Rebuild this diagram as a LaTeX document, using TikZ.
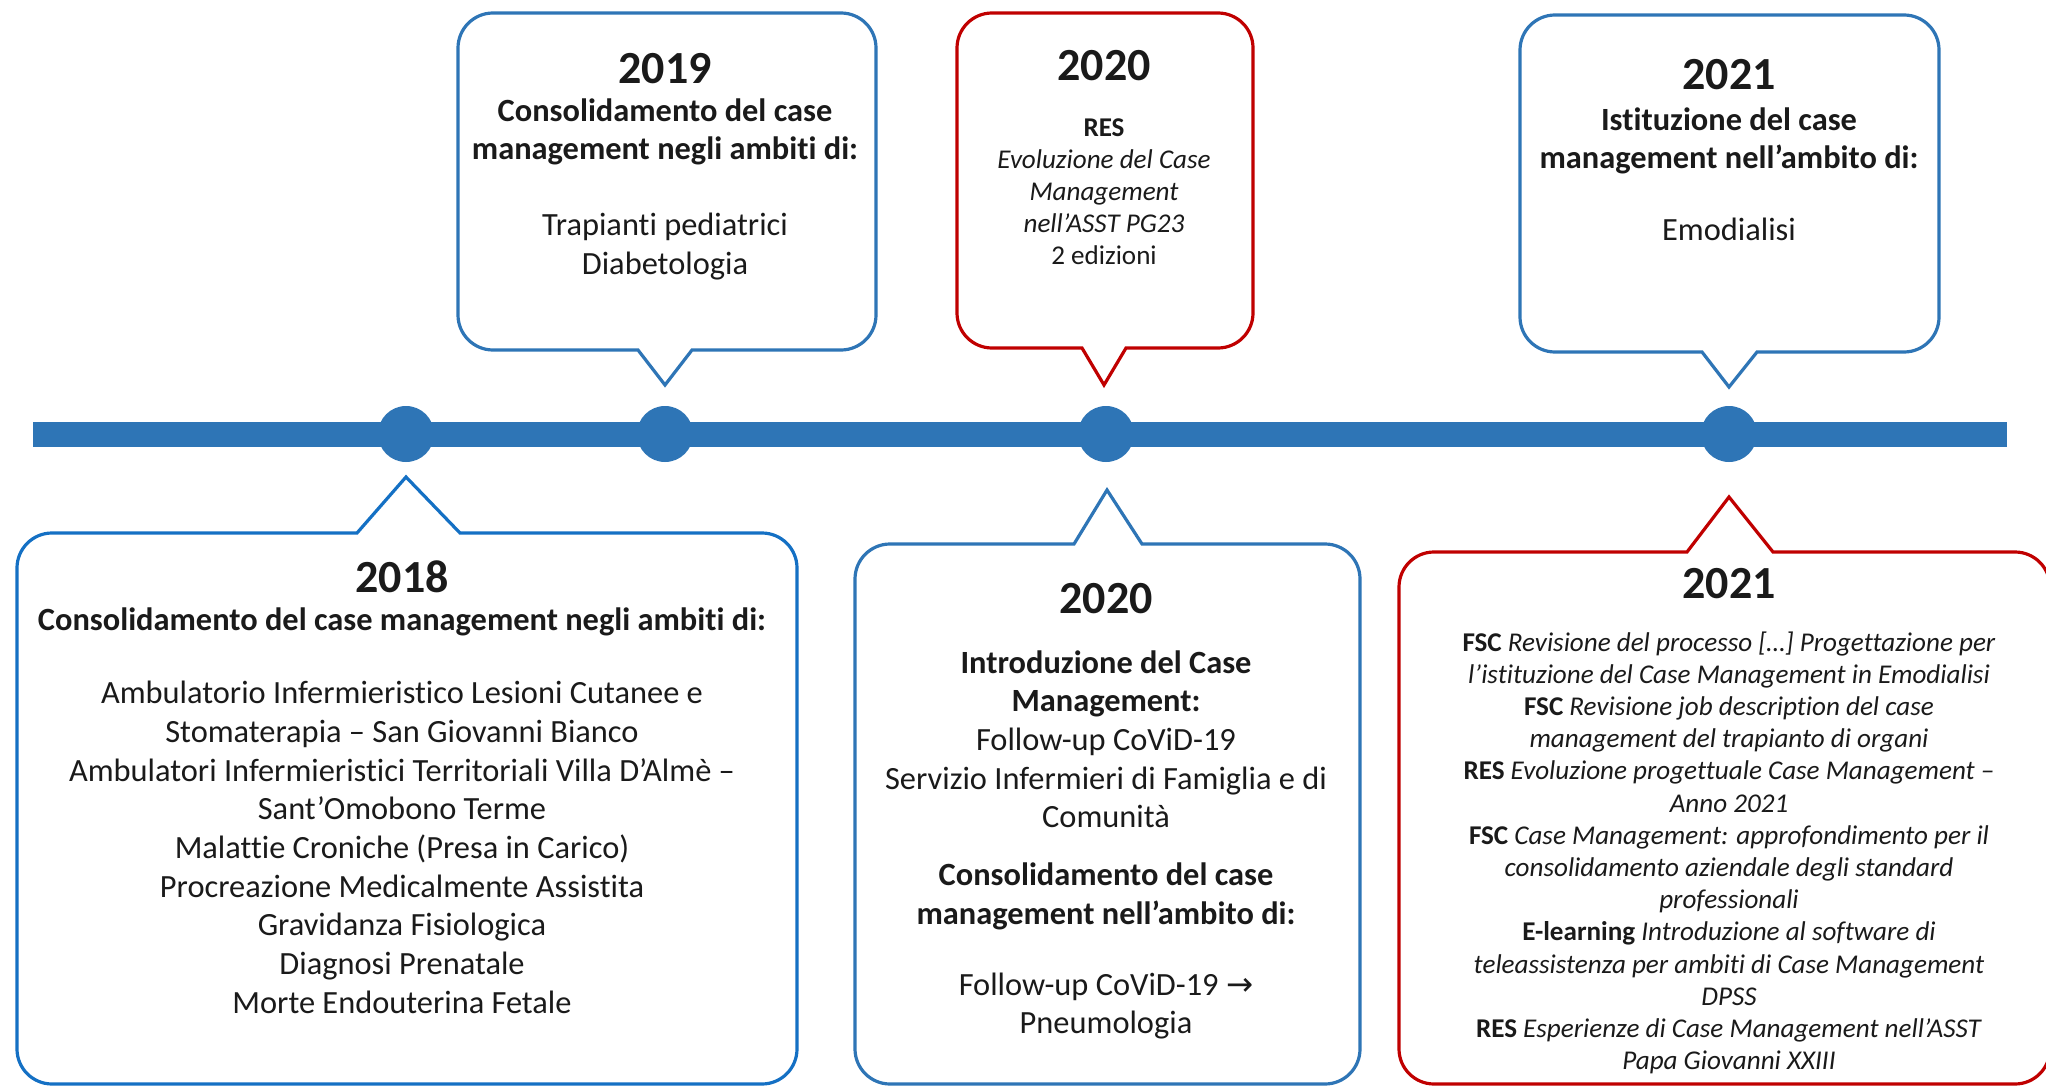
\documentclass[tikz,border=0pt]{standalone}
\usepackage{fontspec}
\setmainfont{Carlito}[Ligatures={TeX,NoCommon}]
\newfontfamily\arrowfont{DejaVu Sans}
\definecolor{tlblue}{HTML}{2E75B6}
\definecolor{boxblue}{HTML}{2E75B6}
\definecolor{boxblueb}{HTML}{1470C4}
\definecolor{boxred}{HTML}{C00000}
\definecolor{txt}{HTML}{1A1A1A}
\tikzset{
  callout/.style={line width=1.6pt, fill=white, line join=miter},
  dot/.style={circle, fill=tlblue, inner sep=0pt, minimum size=28pt},
  year/.style={font=\fontsize{23}{28}\selectfont\bfseries, text=txt, anchor=base, inner sep=0pt},
  body/.style={font=\fontsize{16.2}{19.35}\selectfont, text=txt, align=center, anchor=base, inner sep=0pt},
  small/.style={font=\fontsize{13.55}{16.1}\selectfont, text=txt, align=center, anchor=base, inner sep=0pt},
}
% #1 colour, #2 xl, #3 yt, #4 xr, #5 yb, #6 tail base left, #7 tail base right, #8 tip x, #9 tip y
\newcommand\tlcalldown[9]{%
  \draw[callout, draw=#1] ({#2+35},#3) -- ({#4-35},#3)
    .. controls ({#4-15.7},#3) and (#4,{#3+15.7}) .. (#4,{#3+35}) -- (#4,{#5-35})
    .. controls (#4,{#5-15.7}) and ({#4-15.7},#5) .. ({#4-35},#5)
    -- (#7,#5) -- (#8,#9) -- (#6,#5) -- ({#2+35},#5)
    .. controls ({#2+15.7},#5) and (#2,{#5-15.7}) .. (#2,{#5-35}) -- (#2,{#3+35})
    .. controls (#2,{#3+15.7}) and ({#2+15.7},#3) .. ({#2+35},#3) -- cycle;}
\newcommand\tlcallup[9]{%
  \draw[callout, draw=#1] ({#2+35},#3) -- (#6,#3) -- (#8,#9) -- (#7,#3) -- ({#4-35},#3)
    .. controls ({#4-15.7},#3) and (#4,{#3+15.7}) .. (#4,{#3+35}) -- (#4,{#5-35})
    .. controls (#4,{#5-15.7}) and ({#4-15.7},#5) .. ({#4-35},#5)
    -- ({#2+35},#5)
    .. controls ({#2+15.7},#5) and (#2,{#5-15.7}) .. (#2,{#5-35}) -- (#2,{#3+35})
    .. controls (#2,{#3+15.7}) and ({#2+15.7},#3) .. ({#2+35},#3) -- cycle;}
\begin{document}
\begin{tikzpicture}[x=0.5pt,y=-0.5pt]
\useasboundingbox[fill=white] (0,0) rectangle (2046,1086);

% timeline
\fill[tlblue] (33,422) rectangle (2007,447);
\node[dot] (d2018) at (406,434) {};
\node[dot] (d2019) at (665,434) {};
\node[dot] (d2020) at (1106,434) {};
\node[dot] (d2021) at (1729,434) {};

% top callouts
\tlcalldown{boxblue}{458}{13}{876}{350}{638}{692}{665}{385}
\tlcalldown{boxred}{957}{13}{1253}{348}{1082}{1126}{1104}{385}
\tlcalldown{boxblue}{1520}{15}{1939}{352}{1702}{1757}{1729}{387}

% bottom callouts
\tlcallup{boxblueb}{17}{533}{797}{1084}{357}{460}{406}{477}
\tlcallup{boxblue}{855}{544}{1360}{1084}{1074}{1142}{1107}{490}
\tlcallup{boxred}{1399}{552}{2050}{1084}{1687}{1773}{1729}{497}

% (multi-line nodes: anchor base = baseline of the last line)
% 2019
\node[year] (y2019) at (665,84) {2019};
\node[body] (t2019) at (665,274.5) {\textbf{Consolidamento del case}\\\textbf{management negli ambiti di:}\\[18.7pt]Trapianti pediatrici\\Diabetologia};

% 2020 top
\node[year] (y2020a) at (1104,81) {2020};
\node[small] (t2020a) at (1104,264.8) {\textbf{RES}\\\textit{Evoluzione del Case}\\\textit{Management}\\\textit{nell’ASST PG23}\\2 edizioni};

% 2021 top
\node[year] (y2021a) at (1729,90) {2021};
\node[body] (t2021a) at (1729,240.8) {\textbf{Istituzione del case}\\\textbf{management nell’ambito di:}\\[16.7pt]Emodialisi};

% 2018
\node[year] (y2018) at (402,592) {2018};
\node[body] (t2018) at (402,1013.3) {\textbf{Consolidamento del case management negli ambiti di:}\\[17.5pt]%
Ambulatorio Infermieristico Lesioni Cutanee e\\Stomaterapia – San Giovanni Bianco\\%
Ambulatori Infermieristici Territoriali Villa D’Almè –\\Sant’Omobono Terme\\%
Malattie Croniche (Presa in Carico)\\Procreazione Medicalmente Assistita\\%
Gravidanza Fisiologica\\Diagnosi Prenatale\\Morte Endouterina Fetale};

% 2020 bottom
\node[year] (y2020b) at (1106,613) {2020};
\node[body] (t2020b) at (1106,1033.8) {\textbf{Introduzione del Case}\\\textbf{Management:}\\Follow-up CoViD-19\\%
Servizio Infermieri di Famiglia e di\\Comunità\\[9.6pt]%
\textbf{Consolidamento del case}\\\textbf{management nell’ambito di:}\\[16pt]%
Follow-up CoViD-19 {\arrowfont →}\\Pneumologia};

% 2021 bottom
\node[year] (y2021b) at (1729,598) {2021};
\node[small] (t2021b) at (1729,1069.6) {\textbf{FSC} \textit{Revisione del processo […] Progettazione per}\\%
\textit{l’istituzione del Case Management in Emodialisi}\\%
\textbf{FSC} \textit{Revisione job description del case}\\%
\textit{management del trapianto di organi}\\%
\textbf{RES} \textit{Evoluzione progettuale Case Management –}\\%
\textit{Anno 2021}\\%
\textbf{FSC} \textit{Case Management: approfondimento per il}\\%
\textit{consolidamento aziendale degli standard}\\%
\textit{professionali}\\%
\textbf{E-learning} \textit{Introduzione al software di}\\%
\textit{teleassistenza per ambiti di Case Management}\\%
\textit{DPSS}\\%
\textbf{RES} \textit{Esperienze di Case Management nell’ASST}\\%
\textit{Papa Giovanni XXIII}};
\end{tikzpicture}
\end{document}
